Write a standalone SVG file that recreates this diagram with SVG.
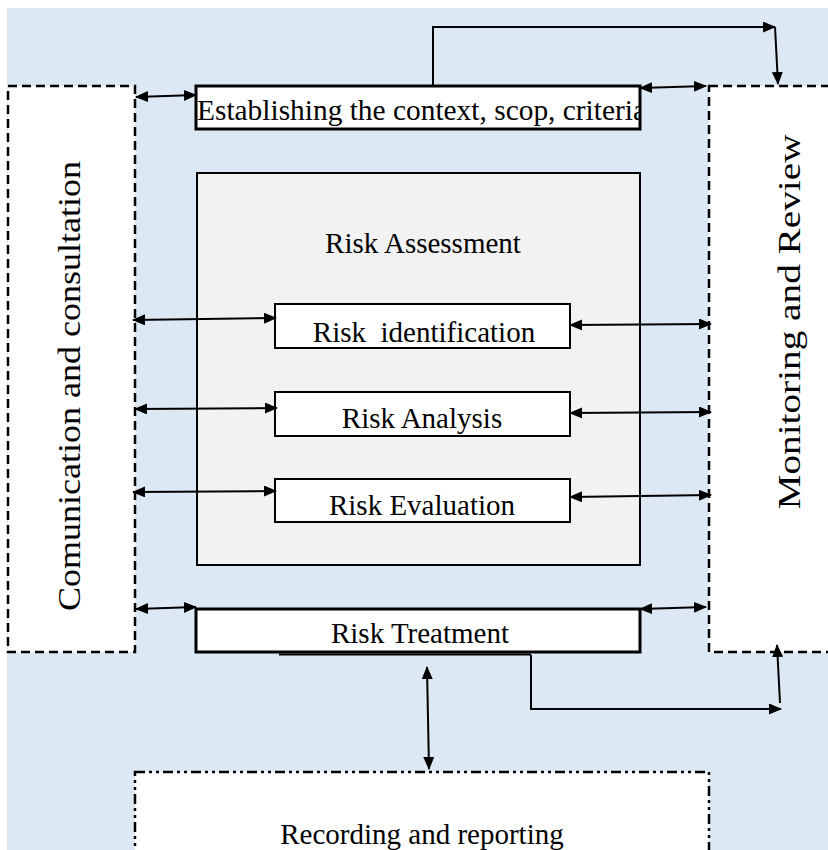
<svg xmlns="http://www.w3.org/2000/svg" width="828" height="850" viewBox="0 0 828 850">
<defs>
<marker id="ah" markerUnits="userSpaceOnUse" markerWidth="13" markerHeight="11" refX="12" refY="5.5" orient="auto-start-reverse">
<path d="M0,0 L13,5.5 L0,11 z" fill="#000"/>
</marker>
<clipPath id="clipTop"><rect x="196" y="85" width="443" height="44"/></clipPath>
<style>
.lbl{font-family:"Liberation Serif","Times New Roman",serif;font-size:29px;fill:#000}
.big{font-size:31px}
.c{text-anchor:middle}
.dash{fill:#fff;stroke:#000;stroke-width:2.5;stroke-dasharray:9 5}
.box{fill:#fff;stroke:#000;stroke-width:2}
.thick{fill:#fff;stroke:#000;stroke-width:3}
.con{fill:none;stroke:#000;stroke-width:2}
.bi{marker-start:url(#ah);marker-end:url(#ah)}
.one{marker-end:url(#ah)}
</style>
</defs>
<rect x="7" y="8" width="821" height="842" fill="#DCE9F5"/>

<g id="communication">
<rect class="dash" x="8" y="86" width="127" height="566"/>
<text class="lbl big c" transform="translate(80,386) rotate(-90)" textLength="450" lengthAdjust="spacingAndGlyphs">Comunication and consultation</text>
</g>
<g id="monitoring">
<rect class="dash" x="709" y="86" width="130" height="566"/>
<text class="lbl big c" transform="translate(800,322) rotate(-90)" textLength="375" lengthAdjust="spacingAndGlyphs">Monitoring and Review</text>
</g>
<g id="context">
<rect class="thick" x="196" y="86" width="444" height="43"/>
<text class="lbl" x="197" y="120" clip-path="url(#clipTop)" textLength="449" lengthAdjust="spacingAndGlyphs" style="font-size:30px">Establishing the context, scop, criteria</text>
</g>
<g id="assessment">
<rect x="197" y="173" width="443" height="392" fill="#F2F2F2" stroke="#000" stroke-width="2"/>
<text class="lbl c" x="423" y="253">Risk Assessment</text>
</g>
<g id="identification">
<rect class="box" x="275" y="304" width="295" height="44"/>
<text class="lbl c" x="424" y="342" xml:space="preserve">Risk  identification</text>
</g>
<g id="analysis">
<rect class="box" x="275" y="392" width="295" height="44"/>
<text class="lbl c" x="422" y="428">Risk Analysis</text>
</g>
<g id="evaluation">
<rect class="box" x="275" y="479" width="295" height="43"/>
<text class="lbl c" x="422" y="515">Risk Evaluation</text>
</g>
<g id="treatment">
<rect class="thick" x="196" y="609" width="444" height="43"/>
<line x1="279" y1="654.5" x2="531" y2="654.5" stroke="#000" stroke-width="2"/>
<text class="lbl c" x="420" y="643">Risk Treatment</text>
</g>
<g id="recording">
<rect x="135" y="772" width="574" height="100" fill="#fff" stroke="#000" stroke-width="2.5" stroke-dasharray="10 4 3 4 3 4"/>
<text class="lbl c" x="422" y="844">Recording and reporting</text>
</g>

<g id="connectors">
<path class="con one" d="M433,85 V27 H775"/>
<line class="con one" x1="775" y1="27" x2="778" y2="84"/>
<line class="con bi" x1="136" y1="97" x2="196" y2="95"/>
<line class="con bi" x1="640" y1="88" x2="706" y2="86"/>
<line class="con bi" x1="133" y1="320" x2="276" y2="318"/>
<line class="con bi" x1="570" y1="325" x2="711" y2="324"/>
<line class="con bi" x1="135" y1="409" x2="277" y2="408"/>
<line class="con bi" x1="570" y1="413" x2="711" y2="412"/>
<line class="con bi" x1="133" y1="492" x2="276" y2="491"/>
<line class="con bi" x1="570" y1="497" x2="711" y2="495"/>
<line class="con bi" x1="136" y1="609" x2="196" y2="607"/>
<line class="con bi" x1="640" y1="609" x2="706" y2="607"/>
<line class="con bi" x1="427" y1="667" x2="429" y2="769"/>
<path class="con one" d="M531,655 V709 H781"/>
<line class="con one" x1="780" y1="703" x2="777" y2="645"/>
</g>
</svg>
